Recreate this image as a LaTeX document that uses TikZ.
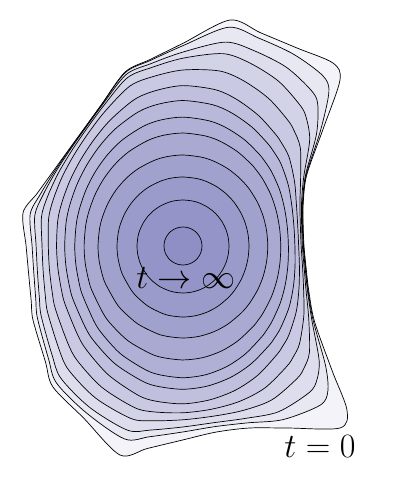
\documentclass[tikz,border=0pt]{standalone}
\usepackage{amsmath}
\usepackage{tikz}
\usetikzlibrary{positioning}

\definecolor{flowblue}{RGB}{49,49,148}
\tikzset{ring/.style={draw=black, line width=0.7pt, fill=flowblue, fill opacity=0.06},
  timelabel/.style={scale=1.37, font=\Huge}}

%% initial curve, angle/radius about the limit point
\newcommand{\startcurve}{0/121.0, 10/122.0, 20/128.0, 30/143.0, 40/183.3, 46.6/228.5,
  50.66/236.6, 60/228.5, 70/226.9, 78.25/230.8, 90/202.7, 100/189.4, 108.4/183.4,
  120/163.2, 130/153.6, 140/149.4, 150/149.8, 160/154.9, 168.3/163.4, 180/156.9,
  190/156.8, 200/161.5, 206.3/167.3, 220/179.7, 227.3/191.8, 240/198.7, 253.2/218.3,
  260/205.6, 270/193.9, 280/189.0, 290/193.7, 300/210.2, 310.8/240.4, 315/231.9,
  320/195.0, 330/152.0, 340/134.0, 350/125.0}

\begin{document}
\begin{tikzpicture}[x=1pt,y=1pt]
        \useasboundingbox (-183,-252) rectangle (218,246);

        %% curves from t=0 inwards
        \foreach \a/\bt/\bb/\n in {100000/100000/100000/4, 169/250/207/3.4, 158/215/194/2.9,
          147/200/181/2.5, 138/181/171/2.2, 128/162/160/2, 119/146/144/2,
          108.5/129/132/2, 99/113/114/2, 85/91/92/2, 66/69/71/2, 46/46/47/2, 19/19/19/2} {
          \gdef\ringpts{}
          \foreach \t/\r in \startcurve {
            \edef\rr{\fpeval{round(\r*(1+((abs(cosd(\t))*\r/\a)^\n
              +(abs(sind(\t))*\r/((sind(\t)>0) ? \bt : \bb))^\n)^(10/\n))^(-1/10),2)}}
            \xdef\ringpts{\ringpts (\t:\rr)}
          }
          \path[ring] plot[smooth cycle] coordinates {\ringpts};
        }

        \node (tinf) [timelabel] at (3,-32) {$t\to\infty$};
        \node (tzero) [timelabel] at (137,-201) {$t=0$};

\end{tikzpicture}
\end{document}
